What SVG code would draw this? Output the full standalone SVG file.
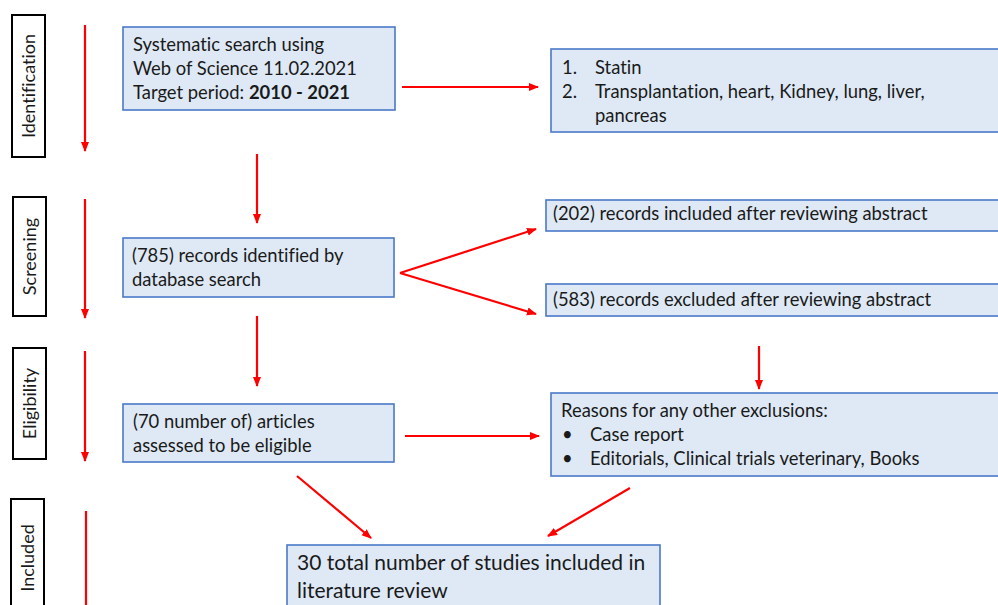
<svg xmlns="http://www.w3.org/2000/svg" width="998" height="605" viewBox="0 0 998 605">
<defs>
<marker id="ah" markerUnits="userSpaceOnUse" markerWidth="10" markerHeight="10" viewBox="0 0 10 10" refX="9" refY="5" orient="auto">
<path d="M0,1 L10,5 L0,9 Z" fill="#ff0000"/>
</marker>
</defs>
<style>
text{font-variant-ligatures:none}
.box{fill:#dee9f5;stroke:#4a78c8;stroke-width:1.6}
.side{fill:#ffffff;stroke:#000000;stroke-width:2}
.t{font-family:Lato,"Liberation Sans",sans-serif;font-size:18.4px;fill:#1a1a1a}
.st{font-family:Lato,"Liberation Sans",sans-serif;font-size:18px;fill:#1a1a1a;text-anchor:middle}
.big{font-family:Lato,"Liberation Sans",sans-serif;font-size:21px;fill:#1a1a1a}
.c{stroke:#ff0000;stroke-width:2.2;fill:none;marker-end:url(#ah)}
</style>
<rect width="998" height="605" fill="#ffffff"/>

<g id="side-identification">
<rect class="side" x="12" y="15" width="33" height="142"/>
<text class="st" transform="translate(35,86) rotate(-90)">Identification</text>
</g>
<g id="side-screening">
<rect class="side" x="13" y="197" width="33" height="119"/>
<text class="st" transform="translate(36,256.5) rotate(-90)">Screening</text>
</g>
<g id="side-eligibility">
<rect class="side" x="13" y="348" width="33" height="111"/>
<text class="st" transform="translate(36,403.5) rotate(-90)">Eligibility</text>
</g>
<g id="side-included">
<rect class="side" x="11" y="499" width="33" height="150"/>
<text class="st" transform="translate(34,558) rotate(-90)">Included</text>
</g>

<g id="search">
<rect class="box" x="123" y="27" width="272" height="83"/>
<text class="t" x="133" y="51">Systematic search using</text>
<text class="t" x="133" y="75">Web of Science 11.02.2021</text>
<text class="t" x="133" y="99">Target period: <tspan font-weight="bold">2010 - 2021</tspan></text>
</g>
<g id="keywords">
<rect class="box" x="551" y="49" width="450" height="83"/>
<text class="t" x="562" y="74">1.</text>
<text class="t" x="595" y="74">Statin</text>
<text class="t" x="562" y="98">2.</text>
<text class="t" x="595" y="98">Transplantation, heart, Kidney, lung, liver,</text>
<text class="t" x="595" y="122">pancreas</text>
</g>
<g id="records-identified">
<rect class="box" x="123" y="238" width="271" height="59"/>
<text class="t" x="132" y="262">(785) records identified by</text>
<text class="t" x="132" y="286">database search</text>
</g>
<g id="records-included">
<rect class="box" x="546" y="200" width="455" height="31"/>
<text class="t" x="553" y="220">(202) records included after reviewing abstract</text>
</g>
<g id="records-excluded">
<rect class="box" x="546" y="284" width="455" height="32"/>
<text class="t" x="553" y="306">(583) records excluded after reviewing abstract</text>
</g>
<g id="eligible">
<rect class="box" x="123" y="404" width="271" height="58"/>
<text class="t" x="133" y="428">(70 number of) articles</text>
<text class="t" x="133" y="452">assessed  to be eligible</text>
</g>
<g id="exclusions">
<rect class="box" x="551" y="393" width="450" height="83"/>
<text class="t" x="561" y="417">Reasons for any other exclusions:</text>
<text class="t" x="562" y="441">•</text>
<text class="t" x="590" y="441">Case report</text>
<text class="t" x="562" y="465">•</text>
<text class="t" x="590" y="465">Editorials, Clinical trials veterinary,  Books</text>
</g>
<g id="final">
<rect class="box" x="287" y="545" width="373" height="70"/>
<text class="big" x="297" y="570">30 total number of studies included in</text>
<text class="big" x="297" y="598">literature review</text>
</g>

<g id="connectors">
<line class="c" x1="85" y1="25" x2="85" y2="151"/>
<line class="c" x1="85" y1="199" x2="85" y2="318"/>
<line class="c" x1="85" y1="351" x2="85" y2="461"/>
<line class="c" x1="86" y1="511" x2="86" y2="620"/>
<line class="c" x1="402" y1="87" x2="538" y2="87"/>
<line class="c" x1="257" y1="154" x2="257" y2="223"/>
<line class="c" x1="400" y1="273" x2="536" y2="229"/>
<line class="c" x1="400" y1="273" x2="536" y2="314"/>
<line class="c" x1="257" y1="316" x2="257" y2="386"/>
<line class="c" x1="759" y1="346" x2="759" y2="389"/>
<line class="c" x1="405" y1="436" x2="539" y2="436"/>
<line class="c" x1="297" y1="476" x2="371" y2="538"/>
<line class="c" x1="630" y1="488" x2="548" y2="536"/>
</g>
</svg>
